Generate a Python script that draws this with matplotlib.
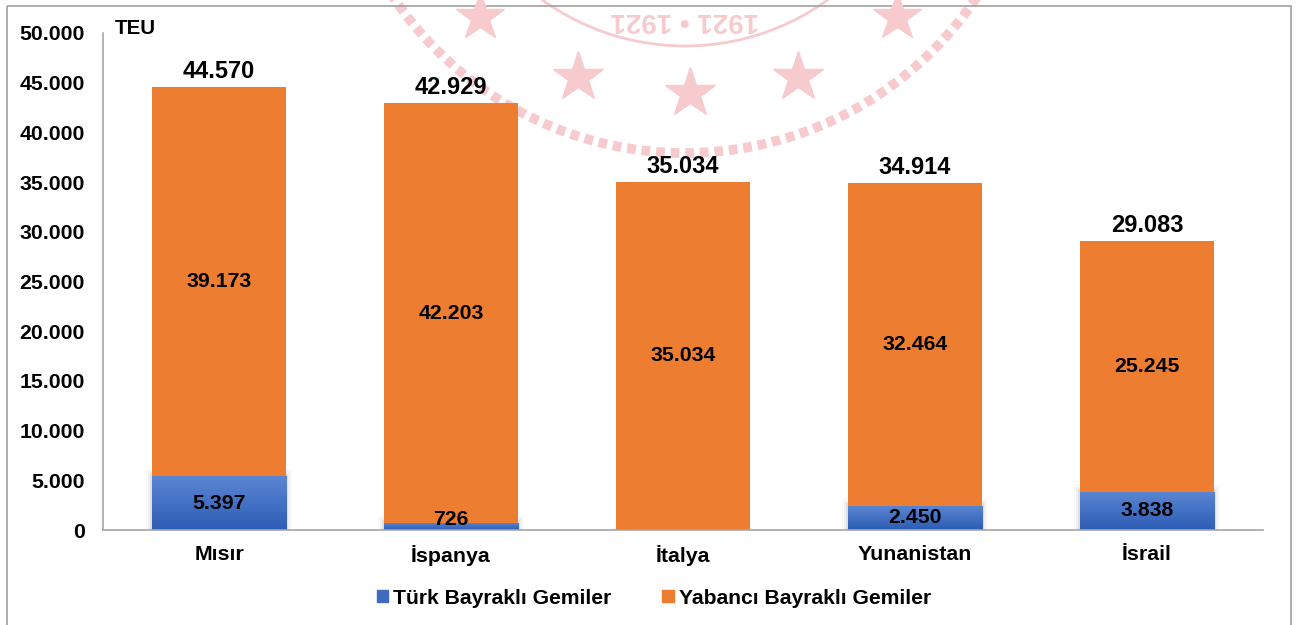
import matplotlib
matplotlib.use("Agg")
import matplotlib.pyplot as plt
import numpy as np
from matplotlib.patches import Rectangle, Circle
from matplotlib.colors import LinearSegmentedColormap

categories = ["Mısır", "İspanya", "İtalya", "Yunanistan", "İsrail"]
turk = [5397, 726, 0, 2450, 3838]
yabanci = [39173, 42203, 35034, 32464, 25245]
totals = [44570, 42929, 35034, 34914, 29083]
series_names = ["Türk Bayraklı Gemiler", "Yabancı Bayraklı Gemiler"]
yticks = [0, 5000, 10000, 15000, 20000, 25000, 30000, 35000, 40000, 45000, 50000]

def fmt(v):
    return f"{v:,}".replace(",", ".")

plt.rcParams['font.family'] = ['Liberation Sans', 'DejaVu Sans']
plt.rcParams['font.weight'] = 'bold'

W, H = 1299, 625
fig = plt.figure(figsize=(W / 100, H / 100), dpi=100)
fig.patch.set_facecolor('white')

# background watermark layer in pixel coordinates
bg = fig.add_axes([0, 0, 1, 1], zorder=0)
bg.set_xlim(0, W)
bg.set_ylim(H, 0)
bg.axis('off')
wm = '#f7cbce'
cx, cy = 685, -198
bg.add_patch(Circle((cx, cy), 351, fill=False, ec=wm, lw=7, ls=(0, (0.9, 0.6))))
bg.add_patch(Circle((cx, cy), 244, fill=False, ec=wm, lw=2))
for (sx, sy, ss) in [(480, 17, 36), (578, 77, 38), (690, 93, 38), (798, 77, 38), (897, 17, 36)]:
    bg.plot([sx], [sy], marker='*', ms=ss, color=wm, mec=wm)
bg.text(cx, 20, "1921 • 1921", ha='center', va='center', fontsize=20, color=wm, rotation=180)
bg.add_patch(Rectangle((7, 6), 1284, 630, fill=False, ec='#a0a0a0', lw=1.2))

ax = fig.add_axes([103 / W, 1 - 530 / H, (1263 - 103) / W, (530 - 33) / H], zorder=1)
ax.patch.set_alpha(0)
x = np.arange(len(categories))
bw = 0.578

orange = '#ED7D31'
blue_cmap = LinearSegmentedColormap.from_list('b', ['#2c5cb4', '#5b86d3'])

bars_b = ax.bar(x, turk, bw, color='#4472C4', label=series_names[0], zorder=2)
bars_o = ax.bar(x, yabanci, bw, bottom=turk, color=orange, label=series_names[1], zorder=2)

# gradient + soft shadow on blue segments
grad = np.linspace(0, 1, 100).reshape(-1, 1)
for b in bars_b:
    h = b.get_height()
    if h <= 0:
        continue
    x0 = b.get_x()
    w = b.get_width()
    for k, a in enumerate([0.06, 0.04, 0.02]):
        d = 0.008 * (k + 1)
        ax.add_patch(Rectangle((x0 - d, 0), w + 2 * d, h + 250 * (k + 1), color='black', alpha=a, lw=0, zorder=1))
    im = ax.imshow(grad, cmap=blue_cmap, aspect='auto', extent=(x0, x0 + w, 0, h), origin='lower', zorder=2.5)
    im.set_clip_path(b)

for i in range(len(categories)):
    if turk[i] > 0:
        ax.text(x[i], max(turk[i] / 2, 1100), fmt(turk[i]), ha='center', va='center', fontsize=15.3, fontweight='bold', zorder=4)
    ax.text(x[i], turk[i] + yabanci[i] / 2, fmt(yabanci[i]), ha='center', va='center', fontsize=15.3, fontweight='bold', zorder=4)
    ax.text(x[i], totals[i] + 400, fmt(totals[i]), ha='center', va='bottom', fontsize=17, fontweight='bold', zorder=4)

ax.set_xlim(-0.5, len(categories) - 0.5)
ax.set_ylim(0, 50000)
ax.set_yticks(yticks)
ax.set_yticklabels([fmt(v) for v in yticks], fontsize=15.3, fontweight='bold')
ax.set_xticks(x)
ax.set_xticklabels(categories, fontsize=15.4, fontweight='bold')
ax.tick_params(axis='both', length=0)
ax.tick_params(axis='y', pad=13)
ax.tick_params(axis='x', pad=11)
for s in ['top', 'right']:
    ax.spines[s].set_visible(False)
ax.spines['left'].set_color('#a6a6a6')
ax.spines['bottom'].set_color('#a6a6a6')
ax.spines['left'].set_linewidth(1.2)
ax.spines['bottom'].set_linewidth(1.2)

fig.text(115 / W, 1 - 29 / H, "TEU", fontsize=14.8, fontweight='bold', ha='left', va='center')

handles = [Rectangle((0, 0), 1, 1, color='#3f6cc0'), Rectangle((0, 0), 1, 1, color=orange)]
leg = fig.legend(handles, series_names, loc='center', bbox_to_anchor=(654 / W, 1 - 598 / H), ncol=2,
                 frameon=False, prop={'size': 15.2, 'weight': 'bold'}, handlelength=0.55, handleheight=0.55,
                 handletextpad=0.25, columnspacing=2.4)

fig.savefig('out.png', dpi=100)
